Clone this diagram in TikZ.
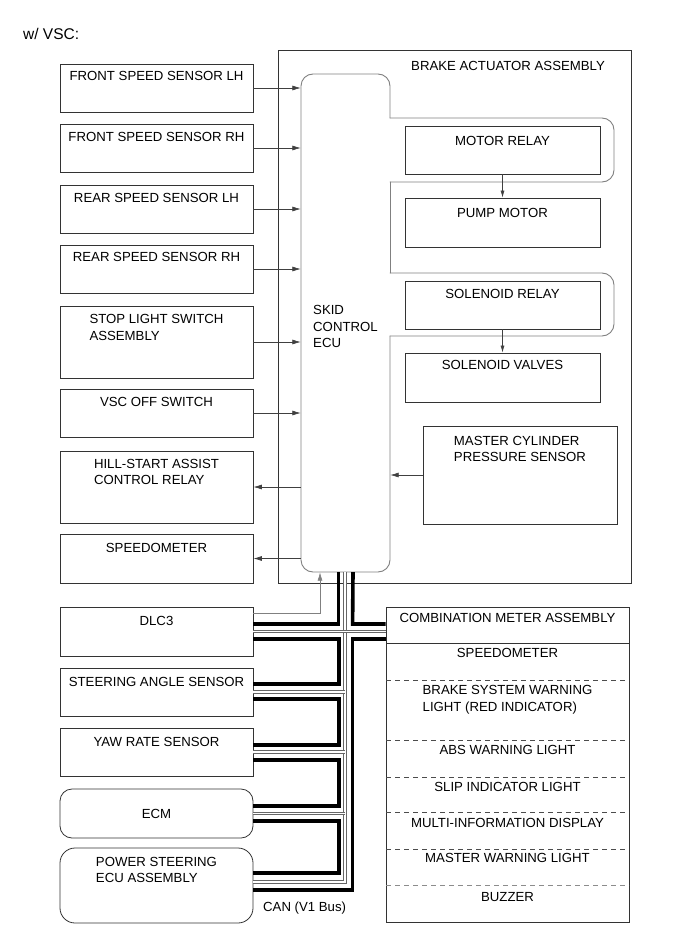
\documentclass[tikz,border=0pt]{standalone}
\usepackage{fontspec}
\setmainfont{Liberation Sans}
\usetikzlibrary{arrows.meta}
\newcommand{\diafont}{\fontsize{13.2}{16.3}\selectfont}
\newcommand{\headfont}{\fontsize{15.5}{18}\selectfont}

\begin{document}
\begin{tikzpicture}[x=1pt,y=-1pt,
  every node/.style={font=\diafont,inner sep=0pt},
  devbox/.style={draw=black!80,line width=0.8pt,minimum width=193pt,minimum height=48pt},
  relbox/.style={devbox,minimum width=195pt},
  devtext/.style={anchor=north,align=left,yshift=-#1},
  devtext/.default=8.3pt,
  sig/.style={draw=black!75,line width=0.7pt,-{Latex[length=8.5pt,width=5pt]}},
  insig/.style={draw=black!75,line width=0.6pt,-{Latex[length=7pt,width=4pt]}},
  eculine/.style={draw=black!50,line width=0.9pt,line cap=round},
  canwire/.style={draw=black,line width=3.6pt},
  canmid/.style={draw=black!60,line width=0.65pt,double=white,double distance=1.8pt},
  sepline/.style={draw=black!70,line width=0.7pt,dash pattern=on 5pt off 4pt}]
\useasboundingbox (0,0) rectangle (691,952);

\node[font=\headfont,anchor=base west] (title) at (23,39.5) {w/ VSC:};

\node[draw=black!80,line width=0.8pt,minimum width=353pt,minimum height=533pt] (bka) at (454.5,316.5) {};
\node[anchor=west] (bkatxt) at (411,66) {BRAKE ACTUATOR ASSEMBLY};

\node[devbox,label={[devtext=7.6pt]north:FRONT SPEED SENSOR LH}] (fls) at (156.5,88) {};
\node[devbox,label={[devtext=8.6pt]north:FRONT SPEED SENSOR RH}] (frs) at (156.5,148) {};
\node[devbox,label={[devtext]north:REAR SPEED SENSOR LH}] (rls) at (156.5,209) {};
\node[devbox,label={[devtext=7.6pt]north:REAR SPEED SENSOR RH}] (rrs) at (156.5,269) {};
\node[devbox,minimum height=72pt,label={[devtext=8.8pt]north:{STOP LIGHT SWITCH\\ASSEMBLY}}] (slw) at (156.5,342) {};
\node[devbox,label={[devtext=8.1pt]north:VSC OFF SWITCH}] (vsc) at (156.5,413) {};
\node[devbox,minimum height=72pt,label={[devtext]north:{HILL-START ASSIST\\CONTROL RELAY}}] (hsa) at (156.5,487) {};
\node[devbox,minimum height=49pt,label={[devtext=9.3pt]north:SPEEDOMETER}] (spd) at (156.5,558.5) {};

\node[devbox,minimum height=49pt,label={[devtext=9.6pt]north:DLC3}] (dlc) at (156.5,631.5) {};
\node[devbox,label={[devtext=9.8pt]north:STEERING ANGLE SENSOR}] (sas) at (156.5,692) {};
\node[devbox,label={[devtext=9.5pt]north:YAW RATE SENSOR}] (yrs) at (156.5,752) {};
\node[devbox,rounded corners=12pt,minimum height=49pt] (ecm) at (156.5,813.5) {ECM};
\node[devbox,rounded corners=15pt,minimum height=75pt,label={[devtext=9.1pt]north:{POWER STEERING\\ECU ASSEMBLY}}] (pse) at (156.5,885.5) {};

\node[minimum width=89pt,minimum height=498pt] (ecu) at (345.5,323) {};
\node[anchor=west,align=left] (ecutxt) at (313,326.5) {SKID\\CONTROL\\ECU};
\coordinate (busl) at (338.5,632);
\coordinate (busm) at (345,632);
\coordinate (busr) at (353,632);

\node[relbox,label={[devtext=10.4pt]north:MOTOR RELAY}] (mrl) at (502.5,150) {};
\node[relbox,minimum height=49pt,label={[devtext=10.8pt]north:PUMP MOTOR}] (pmp) at (502.5,222.5) {};
\node[relbox,label={[devtext=8.8pt]north:SOLENOID RELAY}] (srl) at (502.5,305) {};
\node[relbox,minimum height=49pt,label={[devtext=7pt]north:SOLENOID VALVES}] (svl) at (502.5,377.5) {};
\node[devbox,minimum width=194pt,minimum height=98pt,label={[devtext=10.6pt]north:{MASTER CYLINDER\\PRESSURE SENSOR}}] (mcp) at (520,475) {};

\draw[eculine,rounded corners=12pt] (390,118) |- (301,74) |- (390,572) -- (390,336);
\draw[eculine,rounded corners=12pt] (390,118) -| (614,182) -- (390,182);
\draw[eculine] (390,182) -- (390,273);
\draw[eculine,rounded corners=12pt] (390,273) -| (614,336) -- (390,336);

\draw[sig] (fls.east) -- (fls.east -| ecu.west);
\draw[sig] (frs.east) -- (frs.east -| ecu.west);
\draw[sig] (rls.east) -- (rls.east -| ecu.west);
\draw[sig] (rrs.east) -- (rrs.east -| ecu.west);
\draw[sig] (slw.east) -- (slw.east -| ecu.west);
\draw[sig] (vsc.east) -- (vsc.east -| ecu.west);
\draw[sig] (hsa.east -| ecu.west) -- (hsa.east);
\draw[sig] (spd.east -| ecu.west) -- (spd.east);
\draw[sig] (mcp.west) -- (mcp.west -| ecu.east);
\draw[insig] (mrl.south) -- (pmp.north);
\draw[insig] (srl.south) -- (svl.north);
\draw[sig,draw=black!50] ([yshift=18.5pt]dlc.east) -| ([xshift=-25.5pt]ecu.south);

\node[draw=black!80,line width=0.8pt,minimum width=243pt,minimum height=315pt] (cmb) at (507.5,764.5) {};
\draw[black!80,line width=0.8pt] (386,643) -- (629,643);
\draw[sepline] (386,680) -- (629,680);
\draw[sepline] (386,740) -- (629,740);
\draw[sepline] (386,777) -- (629,777);
\draw[sepline] (386,812) -- (629,812);
\draw[sepline] (386,849) -- (629,849);
\draw[sepline,draw=black!45] (386,885) -- (629,885);
\node (cmbhead) at (507.5,618) {COMBINATION METER ASSEMBLY};
\node (cmbspd) at (507.5,653) {SPEEDOMETER};
\node[anchor=north,align=left] (cmbbrk) at (507.5,685.4) {BRAKE SYSTEM WARNING\\LIGHT (RED INDICATOR)};
\node (cmbabs) at (507.5,750) {ABS WARNING LIGHT};
\node (cmbslip) at (507.5,787) {SLIP INDICATOR LIGHT};
\node (cmbmid) at (507.5,823) {MULTI-INFORMATION DISPLAY};
\node (cmbmwl) at (507.5,858) {MASTER WARNING LIGHT};
\node (cmbbuz) at (507.5,897) {BUZZER};

\draw[canmid] ([yshift=3.5pt]pse.east) -| (busm |- ecu.south);
\draw[canmid] (dlc.east) -- (dlc.east -| cmb.west);
\draw[canmid] (sas.east) -- (sas.east -| busm);
\draw[canmid] (yrs.east) -- (yrs.east -| busm);
\draw[canmid] (ecm.east) -- (ecm.east -| busm);

\draw[canwire] ([yshift=7.5pt]dlc.east) -| (busl |- ecu.south);
\draw[canwire] (dlc.east -| cmb.west) ++(0,-7.5) -- ++(-33,0) -- (busr |- ecu.south);
\draw[canwire] ([yshift=-7.5pt]dlc.east) -- ++(85.5,0) |- ([yshift=8pt]sas.east);
\draw[canwire] ([yshift=-7pt]sas.east) -- ++(85.5,0) |- ([yshift=7pt]yrs.east);
\draw[canwire] ([yshift=-8pt]yrs.east) -- ++(85.5,0) |- ([yshift=7.5pt]ecm.east);
\draw[canwire] ([yshift=-7.5pt]ecm.east) -- ++(85.5,0) |- ([yshift=12.5pt]pse.east);
\draw[canwire] (dlc.east -| cmb.west) ++(0,7.5) -- ++(-33,0) |- ([yshift=-4.5pt]pse.east);

\node[anchor=base west] (canlbl) at (263,911.5) {CAN (V1 Bus)};
\end{tikzpicture}
\end{document}
